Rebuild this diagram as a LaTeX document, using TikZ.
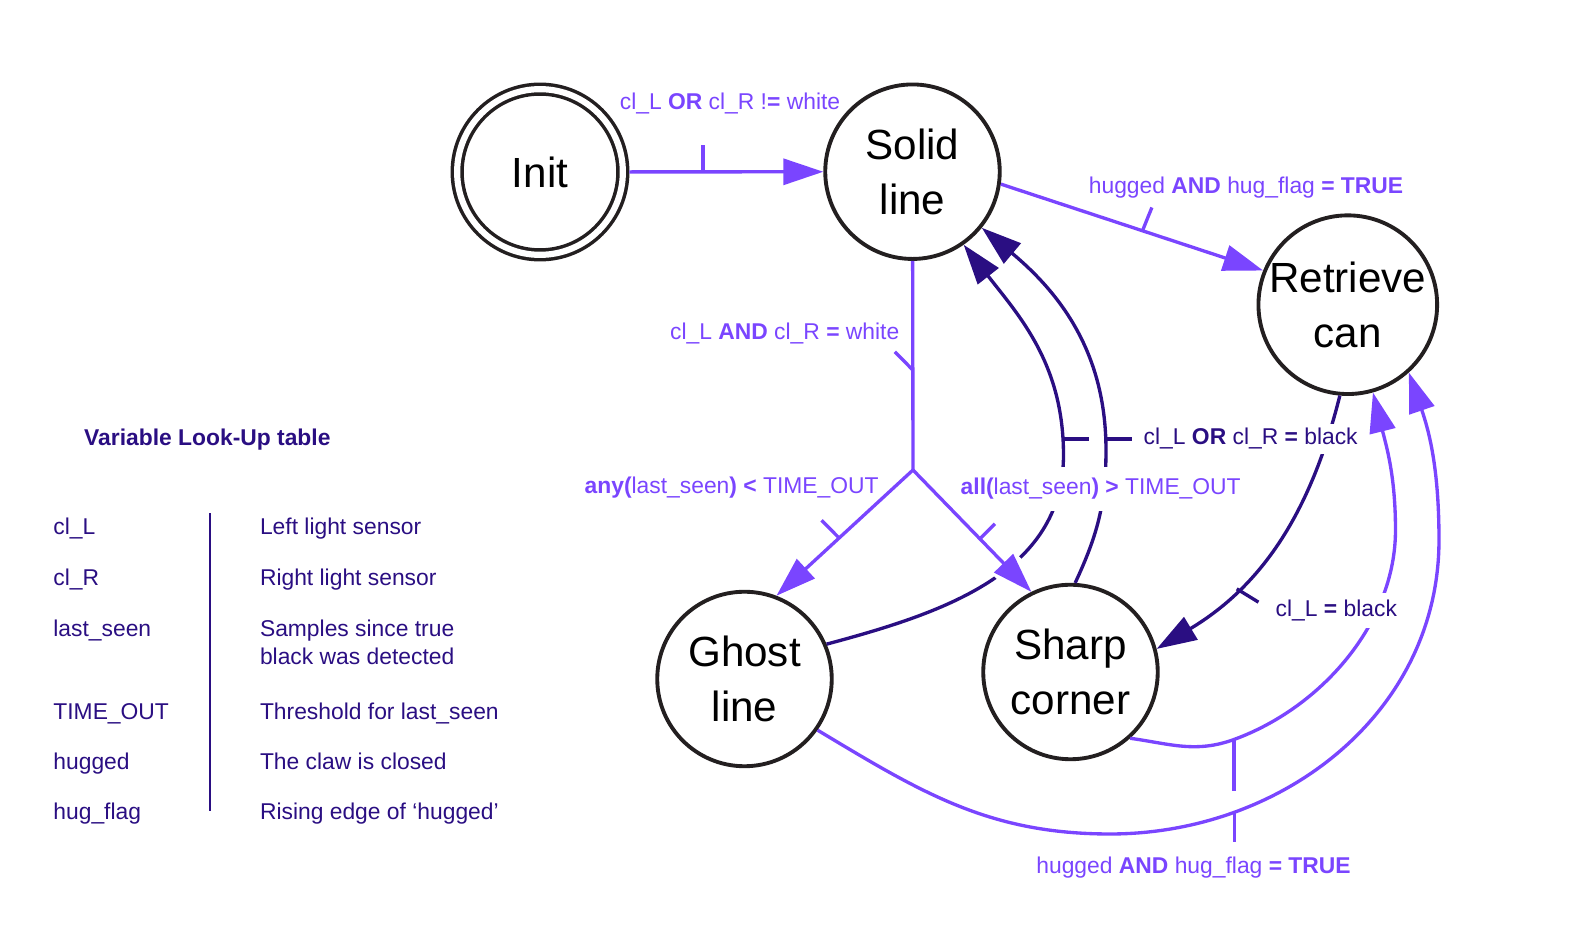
\documentclass[tikz,border=0pt]{standalone}
\usepackage{fontspec}
\setmainfont{Liberation Sans}
\usepackage{xcolor}
\usetikzlibrary{arrows.meta}
\definecolor{mylilac}{RGB}{122, 69, 255}
\definecolor{myindigo}{RGB}{42, 14, 130}
\definecolor{myink}{RGB}{35, 31, 32}

\begin{document}
\begin{tikzpicture}[
  statenode/.style={circle, draw=myink, line width=1.1pt, fill=white, minimum size=1.745cm,
    inner sep=0pt, align=center, font=\fontsize{12}{15.5}\selectfont},
  lilac/.style={draw=mylilac, line width=0.95pt},
  indigo/.style={draw=myindigo, line width=0.95pt},
  arrowhd/.style={-{Triangle[length=4mm,width=2.6mm]}},
  lbl/.style={font=\fontsize{6.5}{8}\selectfont, inner xsep=1pt, inner ysep=1pt},
  lbllight/.style={lbl, text=mylilac},
  lbldark/.style={lbl, text=myindigo},
  tabtext/.style={lbl, text=myindigo, anchor=base west, align=left}
  ]

  \useasboundingbox (0,0) rectangle (15.92,-9.33);

  \node[statenode, line width=1pt, double=white, double distance=0.62mm, minimum size=1.657cm,
    outer sep=0.66mm] (Init) at (5.40,-1.72) {Init};
  \node[statenode] (Solid) at (9.125,-1.717) {Solid\\line};
  \node[statenode] (Retrieve) at (13.478,-3.047) {Retrieve\\can};
  \node[statenode] (Ghost) at (7.445,-6.79) {Ghost\\line};
  \node[statenode] (Sharp) at (10.705,-6.72) {Sharp\\corner};

  \coordinate (J) at (9.13,-4.70);
  \coordinate (viaA) at (10.635,-4.55);
  \coordinate (viaB) at (11.06,-4.50);
  \coordinate (viaD1) at (12.34,-7.395);
  \coordinate (viaD2) at (13.955,-5.30);
  \coordinate (viaE1) at (11.10,-8.34);
  \coordinate (viaE2) at (14.39,-5.40);

  \draw[indigo, arrowhd] (Ghost.23) to[out=15,in=-90] (viaA)
    to[out=90,in=-52] coordinate[pos=0.06] (tkA) (Solid.-55);
  \draw[indigo, arrowhd] (Sharp.87) to[out=65,in=-90] (viaB)
    to[out=90,in=-40] coordinate[pos=0.037] (tkB) (Solid.-39);
  \draw[indigo, arrowhd] (Retrieve.-95) to[out=-104,in=31] coordinate[pos=0.7] (tkC) (Sharp.15);
  \draw[indigo] (tkA) -- ++(0.26,0);
  \draw[indigo] (tkB) -- ++(0.26,0);
  \draw[indigo] (tkC) -- ++(0.217,-0.133);

  \draw[white, line width=9pt, shorten <=1.2cm, shorten >=0.1cm] (J) -- (Sharp.116);

  \draw[lilac, arrowhd] (Init) -- coordinate[pos=0.38] (tkD) (Solid);
  \draw[lilac, arrowhd] (Solid.-8.6) -- coordinate[pos=0.54] (tkE) (Retrieve.158);
  \draw[lilac] (Solid) -- coordinate[pos=0.522] (tkF) (J);
  \draw[lilac, arrowhd] (J) -- coordinate[pos=0.541] (tkG) (Ghost.69);
  \draw[lilac, arrowhd] (J) -- coordinate[pos=0.565] (tkH) (Sharp.116);
  \draw[lilac, arrowhd] (Sharp.-48) to[out=-8,in=200] (viaD1)
    to[out=20,in=-90,looseness=0.9] (viaD2) to[out=90,in=-76] (Retrieve.-74);
  \draw[lilac, arrowhd] (Ghost.-35.5) to[out=-31,in=180] (viaE1)
    to[out=0,in=-90] coordinate[pos=0.25] (tkK) (viaE2) to[out=90,in=-71] (Retrieve.-48.6);

  \draw[lilac] (tkD) -- ++(0,0.27);
  \draw[lilac] (tkE) -- ++(0.094,0.233);
  \draw[lilac] (tkF) -- ++(-0.18,0.183);
  \draw[lilac] (tkG) -- ++(-0.176,0.177);
  \draw[lilac] (tkH) -- ++(0.15,0.15);
  \draw[lilac] (viaD1) -- ++(0,-0.517);
  \draw[lilac] (tkK) -- ++(0,-0.30);

  \node[lbllight, anchor=base] (gInit) at (7.30,-1.10) {cl\_L \textbf{OR} cl\_R !\textbf{=} white};
  \node[lbllight, anchor=base] (gTop) at (12.46,-1.933)
    {hugged \textbf{AND} hug\_flag \textbf{= TRUE}};
  \node[lbllight, anchor=base east] (gSolid) at (9.035,-3.393)
    {cl\_L \textbf{AND} cl\_R \textbf{=} white};
  \node[lbllight, anchor=base east] (gGhost) at (8.828,-4.933)
    {\textbf{any(}last\_seen\textbf{) <} TIME\_OUT};
  \node[lbllight, anchor=base west, fill=white, inner ysep=3.3pt] (gSharp) at (9.565,-4.95)
    {\textbf{all(}last\_seen\textbf{) >} TIME\_OUT};
  \node[lbldark, anchor=base west, fill=white, inner ysep=1.2pt] (gBack) at (11.395,-4.45)
    {cl\_L \textbf{OR} cl\_R \textbf{=} black};
  \node[lbldark, anchor=base west, fill=white, inner ysep=1.9pt] (gCorner) at (12.715,-6.167)
    {cl\_L \textbf{=} black};
  \node[lbllight, anchor=base] (gBottom) at (11.935,-8.733)
    {hugged \textbf{AND} hug\_flag \textbf{= TRUE}};

  \node[tabtext, font=\fontsize{6.5}{8}\selectfont\bfseries] (lut) at (0.80,-4.46) {Variable Look-Up table};
  \foreach \i/\yy/\dy/\nm/\ds in {1/5.35/5.35/cl\_L/Left light sensor,
    2/5.86/5.86/cl\_R/Right light sensor,
    3/6.367/6.65/last\_seen/{Samples since true\\black was detected},
    4/7.193/7.193/TIME\_OUT/Threshold for last\_seen,
    5/7.70/7.70/hugged/The claw is closed,
    6/8.193/8.193/hug\_flag/Rising edge of ‘hugged’}{
    \node[tabtext] (var\i) at (0.492,-\yy) {\nm};
    \node[tabtext] (dsc\i) at (2.558,-\dy) {\ds};
  }
  \draw[myindigo, line width=0.6pt] (2.103,-5.133) -- (2.103,-8.107);

\end{tikzpicture}
\end{document}
